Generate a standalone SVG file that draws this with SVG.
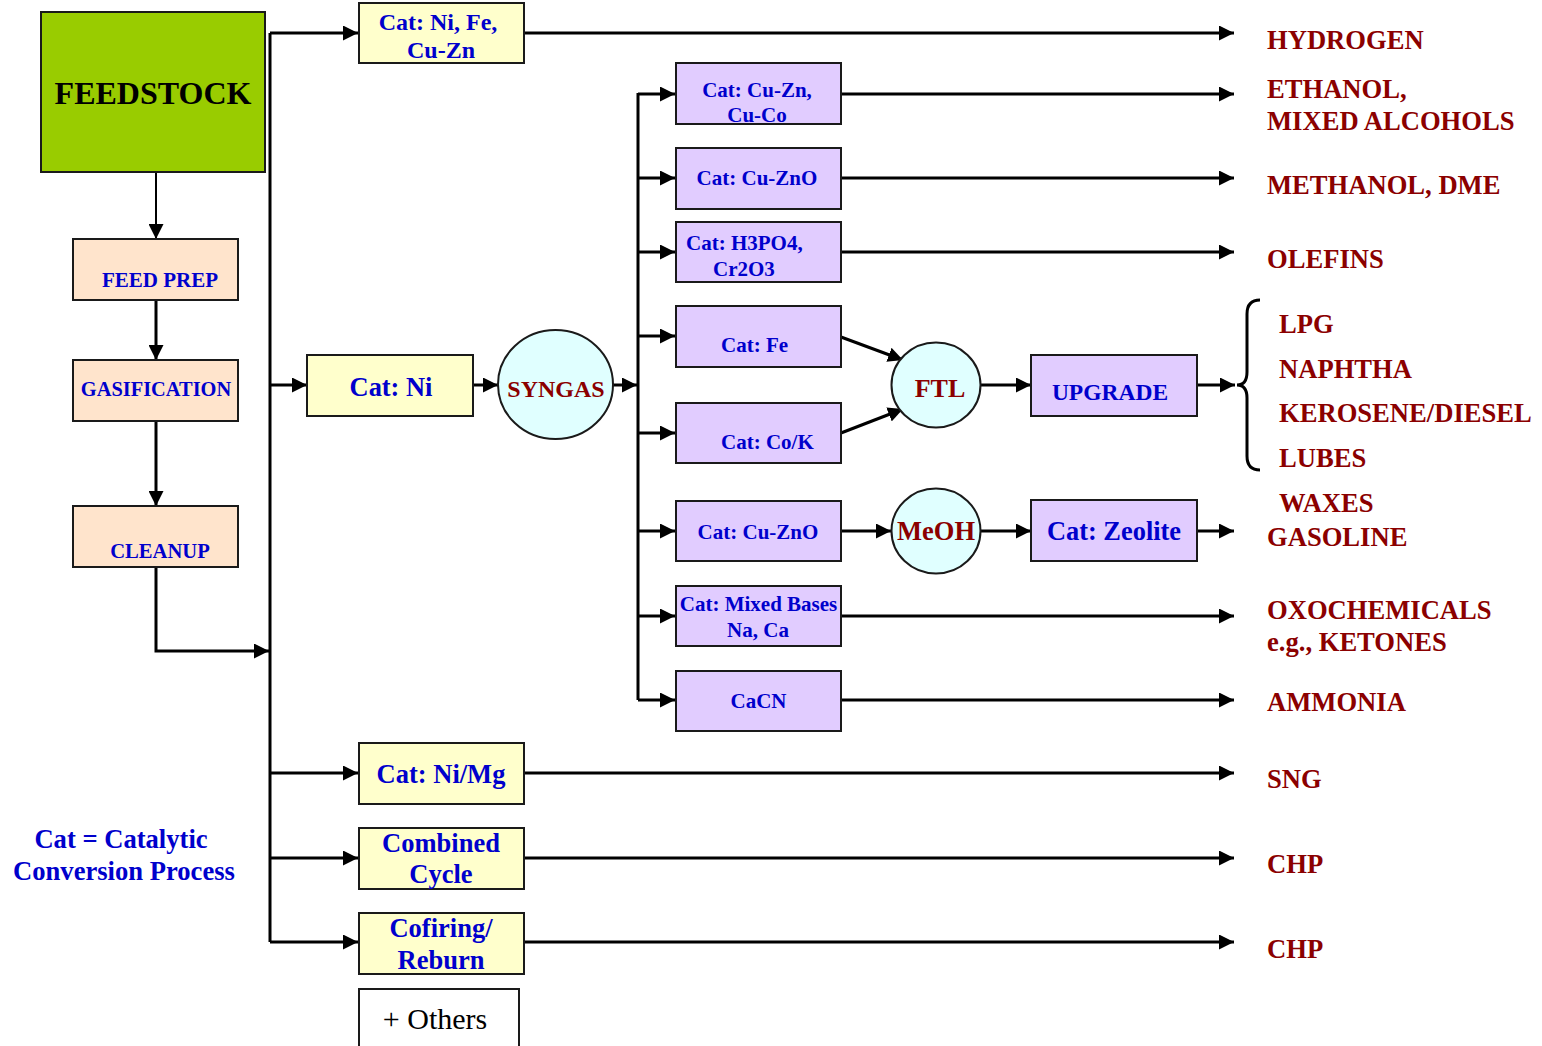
<svg xmlns="http://www.w3.org/2000/svg" width="1542" height="1046" viewBox="0 0 1542 1046">
<style>
text{font-family:"Liberation Serif","Times New Roman",serif;font-weight:bold}
.b{fill:#0000cc}
.r{fill:#8b0000;font-size:26.6px}
.k{fill:#000}
.box{stroke:#1a1a1a;stroke-width:2}
.y{fill:#ffffcc}
.p{fill:#e1ccff}
.o{fill:#ffe4cc}
.c{fill:#e0ffff}
.ln{fill:none;stroke:#000;stroke-width:3}
.m{text-anchor:middle}
</style>
<defs>
<marker id="ah" markerUnits="userSpaceOnUse" markerWidth="15" markerHeight="15" refX="15" refY="7.5" orient="auto">
<path d="M0,0 L15,7.5 L0,15 z" fill="#000"/>
</marker>
</defs>
<rect width="1542" height="1046" fill="#fff"/>

<g id="connectors">
<line x1="156" y1="172" x2="156" y2="239" class="ln" style="stroke-width:2" marker-end="url(#ah)"/>
<line x1="156" y1="300" x2="156" y2="360" class="ln" marker-end="url(#ah)"/>
<line x1="156" y1="421" x2="156" y2="506" class="ln" marker-end="url(#ah)"/>
<polyline points="156,567 156,651 269,651" class="ln" marker-end="url(#ah)"/>
<line x1="270" y1="33" x2="270" y2="942" class="ln"/>
<line x1="270" y1="33" x2="358" y2="33" class="ln" marker-end="url(#ah)"/>
<line x1="270" y1="385" x2="307" y2="385" class="ln" marker-end="url(#ah)"/>
<line x1="270" y1="773" x2="358" y2="773" class="ln" marker-end="url(#ah)"/>
<line x1="270" y1="858" x2="358" y2="858" class="ln" marker-end="url(#ah)"/>
<line x1="270" y1="942" x2="358" y2="942" class="ln" marker-end="url(#ah)"/>
<line x1="473" y1="385" x2="498" y2="385" class="ln" marker-end="url(#ah)"/>
<line x1="613" y1="385" x2="637" y2="385" class="ln" marker-end="url(#ah)"/>
<line x1="638" y1="93" x2="638" y2="700" class="ln"/>
<line x1="638" y1="94" x2="675" y2="94" class="ln" marker-end="url(#ah)"/>
<line x1="638" y1="178" x2="675" y2="178" class="ln" marker-end="url(#ah)"/>
<line x1="638" y1="252" x2="675" y2="252" class="ln" marker-end="url(#ah)"/>
<line x1="638" y1="336" x2="675" y2="336" class="ln" marker-end="url(#ah)"/>
<line x1="638" y1="433" x2="675" y2="433" class="ln" marker-end="url(#ah)"/>
<line x1="638" y1="531" x2="675" y2="531" class="ln" marker-end="url(#ah)"/>
<line x1="638" y1="616" x2="675" y2="616" class="ln" marker-end="url(#ah)"/>
<line x1="638" y1="700" x2="675" y2="700" class="ln" marker-end="url(#ah)"/>
<line x1="524" y1="33" x2="1234" y2="33" class="ln" marker-end="url(#ah)"/>
<line x1="841" y1="94" x2="1234" y2="94" class="ln" marker-end="url(#ah)"/>
<line x1="841" y1="178" x2="1234" y2="178" class="ln" marker-end="url(#ah)"/>
<line x1="841" y1="252" x2="1234" y2="252" class="ln" marker-end="url(#ah)"/>
<line x1="841" y1="616" x2="1234" y2="616" class="ln" marker-end="url(#ah)"/>
<line x1="841" y1="700" x2="1234" y2="700" class="ln" marker-end="url(#ah)"/>
<line x1="524" y1="773" x2="1234" y2="773" class="ln" marker-end="url(#ah)"/>
<line x1="524" y1="858" x2="1234" y2="858" class="ln" marker-end="url(#ah)"/>
<line x1="524" y1="942" x2="1234" y2="942" class="ln" marker-end="url(#ah)"/>
<line x1="841" y1="337" x2="903" y2="360" class="ln" marker-end="url(#ah)"/>
<line x1="841" y1="433" x2="903" y2="409" class="ln" marker-end="url(#ah)"/>
<line x1="981" y1="385" x2="1031" y2="385" class="ln" marker-end="url(#ah)"/>
<line x1="1197" y1="385" x2="1235" y2="385" class="ln" marker-end="url(#ah)"/>
<line x1="841" y1="531" x2="891" y2="531" class="ln" marker-end="url(#ah)"/>
<line x1="981" y1="531" x2="1031" y2="531" class="ln" marker-end="url(#ah)"/>
<line x1="1197" y1="531" x2="1234" y2="531" class="ln" marker-end="url(#ah)"/>
<path d="M1260,300 Q1247,300 1247,314 L1247,372 Q1247,385 1237,385 Q1247,385 1247,398 L1247,456 Q1247,470 1260,470" class="ln"/>
</g>

<g id="feedstock"><rect x="41" y="12" width="224" height="160" fill="#99cc00" class="box"/><text x="153" y="104" class="k m" style="font-size:32px">FEEDSTOCK</text></g>
<g id="feedprep"><rect x="73" y="239" width="165" height="61" class="box o"/><text x="160" y="287" class="b m" style="font-size:21px">FEED PREP</text></g>
<g id="gasification"><rect x="73" y="360" width="165" height="61" class="box o"/><text x="156" y="396" class="b m" style="font-size:20.4px">GASIFICATION</text></g>
<g id="cleanup"><rect x="73" y="506" width="165" height="61" class="box o"/><text x="160" y="558" class="b m" style="font-size:20.6px">CLEANUP</text></g>

<g id="cat-nifecuzn"><rect x="359" y="3" width="165" height="60" class="box y"/><text x="438" y="30" class="b m" style="font-size:24px">Cat: Ni, Fe,</text><text x="441" y="58" class="b m" style="font-size:24px">Cu-Zn</text></g>
<g id="cat-ni"><rect x="307" y="355" width="166" height="61" class="box y"/><text x="391" y="396" class="b m" style="font-size:26.4px">Cat: Ni</text></g>
<g id="syngas"><ellipse cx="555.5" cy="384.5" rx="57.5" ry="54.5" class="box c"/><text x="556" y="397" class="m" style="fill:#8b0000;font-size:24px">SYNGAS</text></g>

<g id="cat-cuzn-cuco"><rect x="676" y="63" width="165" height="61" class="box p"/><text x="757" y="97" class="b m" style="font-size:21px">Cat: Cu-Zn,</text><text x="757" y="122" class="b m" style="font-size:21px">Cu-Co</text></g>
<g id="cat-cuzno-1"><rect x="676" y="148" width="165" height="61" class="box p"/><text x="757" y="185" class="b m" style="font-size:21px">Cat: Cu-ZnO</text></g>
<g id="cat-h3po4"><rect x="676" y="222" width="165" height="60" class="box p"/><text x="686" y="250" class="b" style="font-size:21px">Cat: H3PO4,</text><text x="713" y="276" class="b" style="font-size:21px">Cr2O3</text></g>
<g id="cat-fe"><rect x="676" y="306" width="165" height="61" class="box p"/><text x="721" y="352" class="b" style="font-size:21px">Cat: Fe</text></g>
<g id="cat-cok"><rect x="676" y="403" width="165" height="60" class="box p"/><text x="721" y="449" class="b" style="font-size:21px">Cat: Co/K</text></g>
<g id="cat-cuzno-2"><rect x="676" y="501" width="165" height="60" class="box p"/><text x="758" y="539" class="b m" style="font-size:21px">Cat: Cu-ZnO</text></g>
<g id="cat-mixed"><rect x="676" y="586" width="165" height="60" class="box p"/><text x="758.5" y="611" class="b m" style="font-size:21px">Cat: Mixed Bases</text><text x="758" y="637" class="b m" style="font-size:21px">Na, Ca</text></g>
<g id="cacn"><rect x="676" y="671" width="165" height="60" class="box p"/><text x="758.5" y="708" class="b m" style="font-size:21px">CaCN</text></g>

<g id="ftl"><ellipse cx="936" cy="385" rx="44.5" ry="42.5" class="box c"/><text x="940" y="397" class="m" style="fill:#8b0000;font-size:26px">FTL</text></g>
<g id="meoh"><ellipse cx="936" cy="531" rx="44.5" ry="42.5" class="box c"/><text x="936" y="540" class="m" style="fill:#8b0000;font-size:26.5px">MeOH</text></g>
<g id="upgrade"><rect x="1031" y="355" width="166" height="61" class="box p"/><text x="1110" y="400" class="b m" style="font-size:23.5px">UPGRADE</text></g>
<g id="cat-zeolite"><rect x="1031" y="500" width="166" height="61" class="box p"/><text x="1114" y="540" class="b m" style="font-size:26.4px">Cat: Zeolite</text></g>

<g id="cat-nimg"><rect x="359" y="743" width="165" height="61" class="box y"/><text x="441" y="783" class="b m" style="font-size:26.5px">Cat: Ni/Mg</text></g>
<g id="combined"><rect x="359" y="828" width="165" height="61" class="box y"/><text x="441" y="852" class="b m" style="font-size:26.5px">Combined</text><text x="441" y="883" class="b m" style="font-size:26.5px">Cycle</text></g>
<g id="cofiring"><rect x="359" y="913" width="165" height="61" class="box y"/><text x="441" y="937" class="b m" style="font-size:26.5px">Cofiring/</text><text x="441" y="969" class="b m" style="font-size:26.5px">Reburn</text></g>
<g id="others"><rect x="359" y="989" width="160" height="70" fill="#fff" class="box"/><text x="435" y="1029" class="k m" style="font-size:30px;font-weight:normal">+ Others</text></g>

<g id="legend"><text x="121" y="848" class="b m" style="font-size:26.6px">Cat = Catalytic</text><text x="124" y="880" class="b m" style="font-size:26.6px">Conversion Process</text></g>

<g id="products">
<text x="1267" y="49" class="r">HYDROGEN</text>
<text x="1267" y="98" class="r">ETHANOL,</text>
<text x="1267" y="130" class="r">MIXED ALCOHOLS</text>
<text x="1267" y="194" class="r">METHANOL, DME</text>
<text x="1267" y="268" class="r">OLEFINS</text>
<text x="1279" y="333" class="r">LPG</text>
<text x="1279" y="378" class="r">NAPHTHA</text>
<text x="1279" y="422" class="r">KEROSENE/DIESEL</text>
<text x="1279" y="467" class="r">LUBES</text>
<text x="1279" y="512" class="r">WAXES</text>
<text x="1267" y="546" class="r">GASOLINE</text>
<text x="1267" y="619" class="r">OXOCHEMICALS</text>
<text x="1267" y="651" class="r">e.g., KETONES</text>
<text x="1267" y="711" class="r">AMMONIA</text>
<text x="1267" y="788" class="r">SNG</text>
<text x="1267" y="873" class="r">CHP</text>
<text x="1267" y="958" class="r">CHP</text>
</g>
</svg>
